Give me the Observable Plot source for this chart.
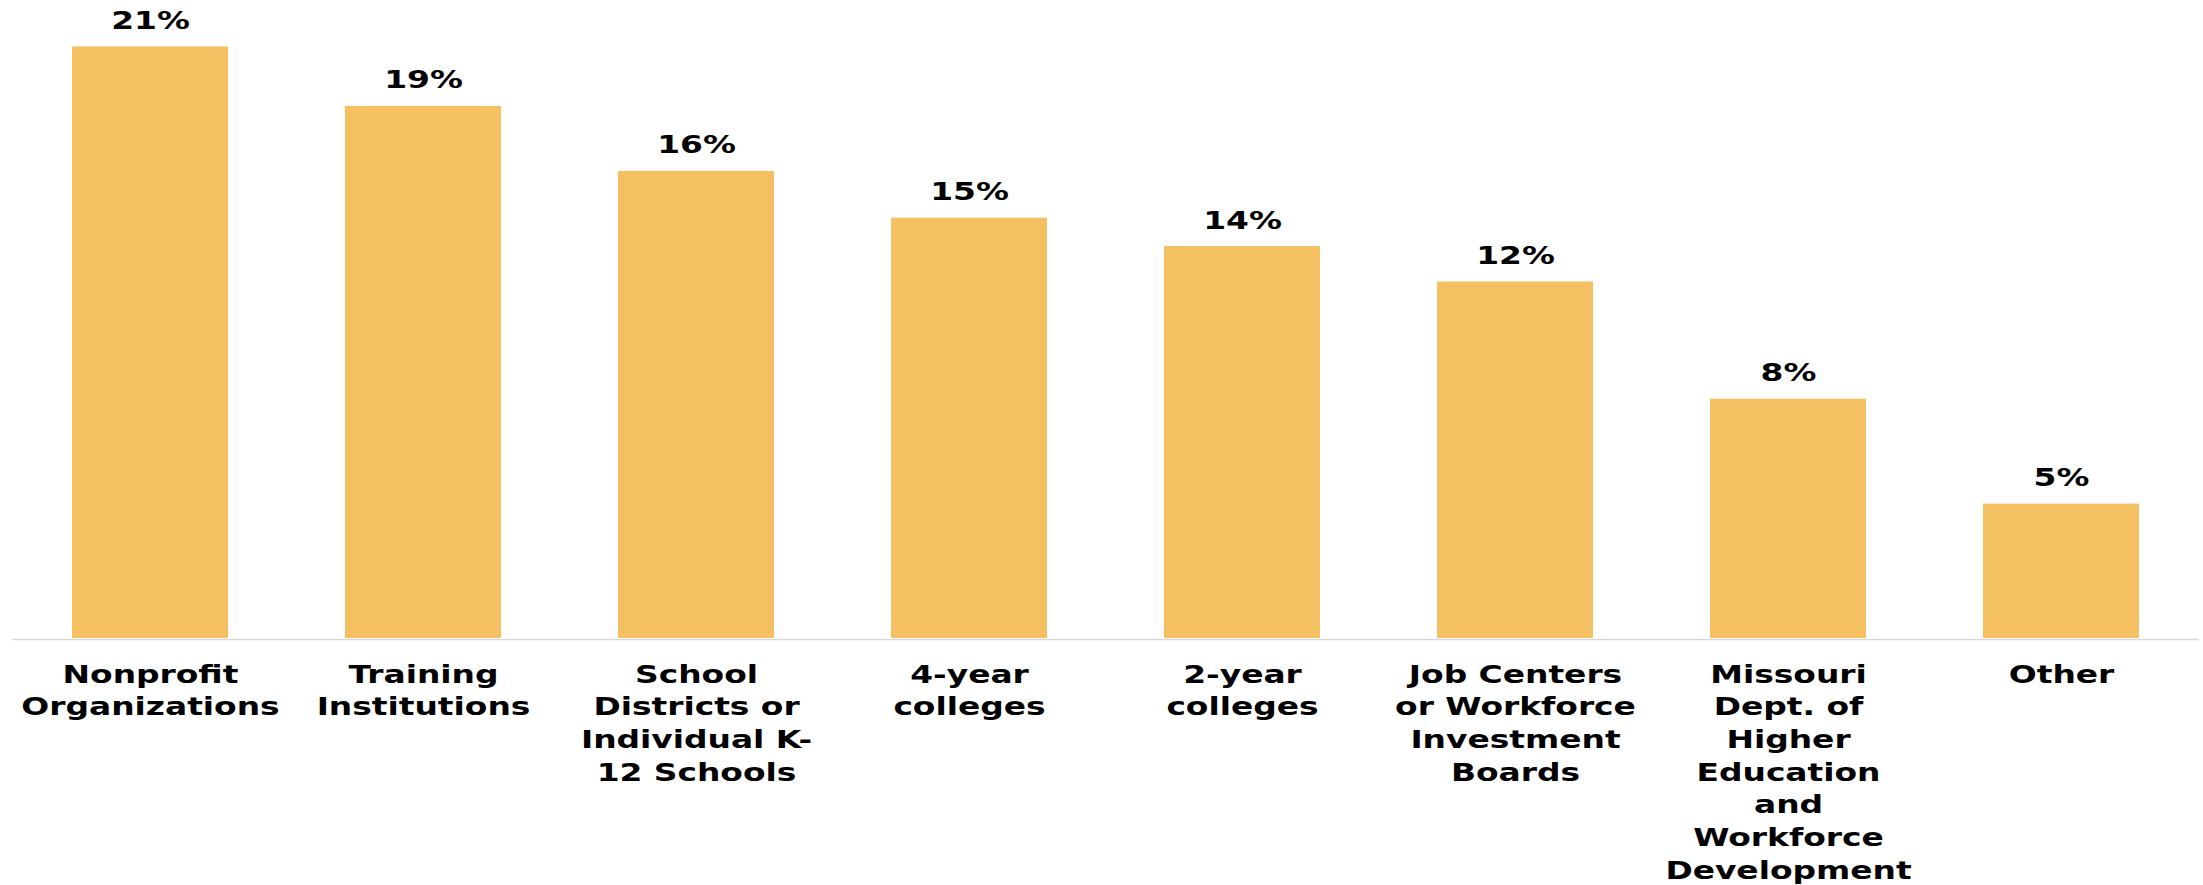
<!DOCTYPE html>
<html>
<head>
<meta charset="utf-8">
<script src="https://cdn.jsdelivr.net/npm/d3@7"></script>
<script src="https://cdn.jsdelivr.net/npm/@observablehq/plot@0.6"></script>
<style>
  html, body { margin: 0; padding: 0; background: #fff; }
  #chart { width: 2203px; height: 885px; }
</style>
</head>
<body>
<div id="chart"></div>
<script>
const categories = [
  "Nonprofit\nOrganizations",
  "Training\nInstitutions",
  "School\nDistricts or\nIndividual K-\n12 Schools",
  "4-year\ncolleges",
  "2-year\ncolleges",
  "Job Centers\nor Workforce\nInvestment\nBoards",
  "Missouri\nDept. of\nHigher\nEducation\nand\nWorkforce\nDevelopment",
  "Other"
];
const values = [20.69, 18.61, 16.34, 14.70, 13.71, 12.47, 8.37, 4.70];
const valueLabels = ["21%", "19%", "16%", "15%", "14%", "12%", "8%", "5%"];

const data = categories.map((c, i) => ({cat: c, value: values[i], label: valueLabels[i]}));

const chart = Plot.plot({
  width: 2203,
  height: 885,
  marginTop: 9,
  marginBottom: 247,
  marginLeft: 12,
  marginRight: 4,
  style: {fontFamily: "DejaVu Sans", fontSize: "24px", background: "#fff"},
  x: {domain: categories, paddingInner: 0.43, paddingOuter: 0.215, axis: null},
  y: {domain: [0, 22], axis: null},
  marks: [
    Plot.barY(data, {x: "cat", y: "value", fill: "#F5C061"}),
    Plot.ruleY([0], {stroke: "#d9d9d9", strokeWidth: 1.5, dy: 1}),
    Plot.text(data, {x: "cat", y: "value", text: "label", lineAnchor: "bottom", dy: -18,
      fontWeight: "bold", fontSize: 24, fill: "#000"}),
    Plot.text(data, {x: "cat", y: () => 0, text: "cat", lineAnchor: "top", dy: 21,
      lineHeight: 1.36, fontWeight: "bold", fontSize: 24, fill: "#000"})
  ]
});

// stretch text horizontally like the reference
const sx = 1.37;
chart.querySelectorAll("text").forEach(t => {
  const tr = t.getAttribute("transform") || "";
  const x = +(t.getAttribute("x") || 0);
  t.setAttribute("transform", `${tr} translate(${x},0) scale(${sx},1) translate(${-x},0)`);
});

document.getElementById("chart").appendChild(chart);
</script>
</body>
</html>
